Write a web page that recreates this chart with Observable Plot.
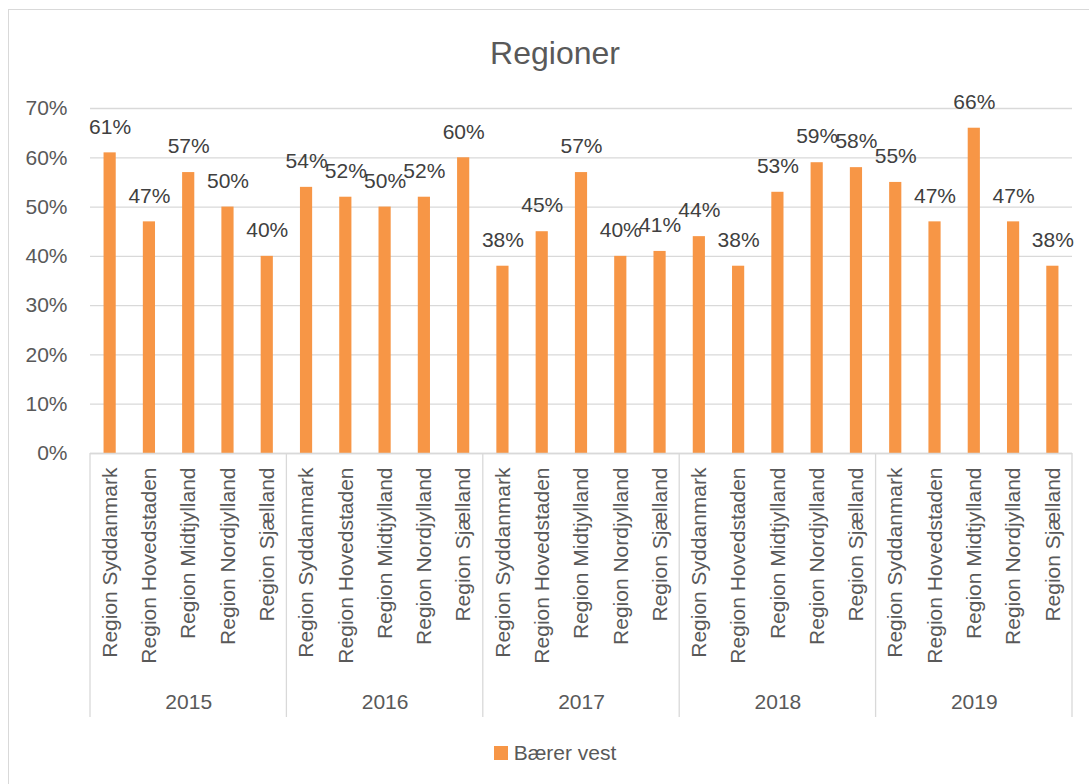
<!DOCTYPE html>
<html>
<head>
<meta charset="utf-8">
<script src="https://cdn.jsdelivr.net/npm/d3@7"></script>
<script src="https://cdn.jsdelivr.net/npm/@observablehq/plot@0.6"></script>
<style>
  html, body { margin: 0; padding: 0; background: #fff; overflow: hidden; }
  #wrap { position: relative; width: 1089px; height: 784px; overflow: hidden; font-family: "Liberation Sans", Arial, sans-serif; }
  #border { position: absolute; left: 8px; top: 9px; width: 1200px; height: 900px; border: 1.5px solid #d9d9d9; box-sizing: border-box; pointer-events: none; }
  #title { height: 85px; box-sizing: border-box; padding-top: 35px; padding-left: 21px; text-align: center; font-size: 32px; line-height: 36px; color: #595959; }
  #chart svg { display: block; }
  #legend { box-sizing: border-box; padding-top: 11px; padding-left: 21px; display: flex; justify-content: center; align-items: center; gap: 6px; font-size: 21px; line-height: 24px; color: #595959; }
  #legend .sw { width: 14px; height: 14px; background: #F79646; }
</style>
</head>
<body>
<div id="wrap">
  <div id="border"></div>
  <div id="title">Regioner</div>
  <div id="chart"></div>
  <div id="legend"><span class="sw"></span><span>Bærer vest</span></div>
</div>
<script>
const years = ["2015", "2016", "2017", "2018", "2019"];
const regions = ["Region Syddanmark", "Region Hovedstaden", "Region Midtjylland", "Region Nordjylland", "Region Sjælland"];
const values2015 = [61, 47, 57, 50, 40];
const values2016 = [54, 52, 50, 52, 60];
const values2017 = [38, 45, 57, 40, 41];
const values2018 = [44, 38, 53, 59, 58];
const values2019 = [55, 47, 66, 47, 38];
const yTicks = [0, 10, 20, 30, 40, 50, 60, 70];
const seriesName = "Bærer vest";

const valuesByYear = [values2015, values2016, values2017, values2018, values2019];
const data = [];
years.forEach((yr, i) => regions.forEach((r, j) => data.push({year: yr, region: r, key: yr + "|" + r, value: valuesByYear[i][j]})));
const keys = data.map(d => d.key);
const yearLabels = years.map(yr => ({year: yr, key: yr + "|" + regions[Math.floor(regions.length / 2)]}));

const grid = "#d9d9d9";
const plot = Plot.plot({
  width: 1089,
  height: 645,
  marginTop: 23,
  marginBottom: 277,
  marginLeft: 90,
  marginRight: 17,
  style: {fontFamily: "'Liberation Sans', Arial, sans-serif", fontSize: "21px", color: "#595959", background: "transparent"},
  x: {type: "band", domain: keys, paddingInner: 0.69, paddingOuter: 0.345, round: false},
  y: {domain: [0, 70]},
  marks: [
    Plot.gridY(yTicks, {stroke: grid, strokeOpacity: 1, strokeWidth: 1.3}),
    Plot.barY(data, {x: "key", y: "value", fill: "#F79646"}),
    Plot.ruleY([0], {stroke: grid, strokeWidth: 1.3}),
    Plot.axisY(yTicks, {tickSize: 0, tickPadding: 23, tickFormat: d => d + "%", label: null, fill: "#595959"}),
    Plot.axisX({tickSize: 0, tickPadding: 14, rotate: -90, textAnchor: "end", lineAnchor: "middle", tickFormat: d => d.split("|")[1], label: null, fill: "#595959"}),
    Plot.text(data, {x: "key", y: "value", text: d => d.value + "%", dy: -26, fill: "#404040", fontSize: 21}),
    Plot.text(yearLabels, {x: "key", text: "year", frameAnchor: "bottom", dy: 255, fill: "#595959", fontSize: 21})
  ]
});

// Group separators on the category axis, computed from the x scale
const xs = plot.scale("x");
const [r0, r1] = xs.range;
const step = (r1 - r0) / xs.domain.length;
const yBottom = plot.scale("y").apply(0);
const svg = d3.select(plot);
const g = svg.append("g").attr("stroke", grid).attr("stroke-width", 1.3);
for (let i = 0; i <= years.length; i++) {
  const xp = r0 + i * regions.length * step;
  g.append("line").attr("x1", xp).attr("x2", xp).attr("y1", yBottom).attr("y2", yBottom + 264);
}
document.getElementById("chart").appendChild(plot);
</script>
</body>
</html>
